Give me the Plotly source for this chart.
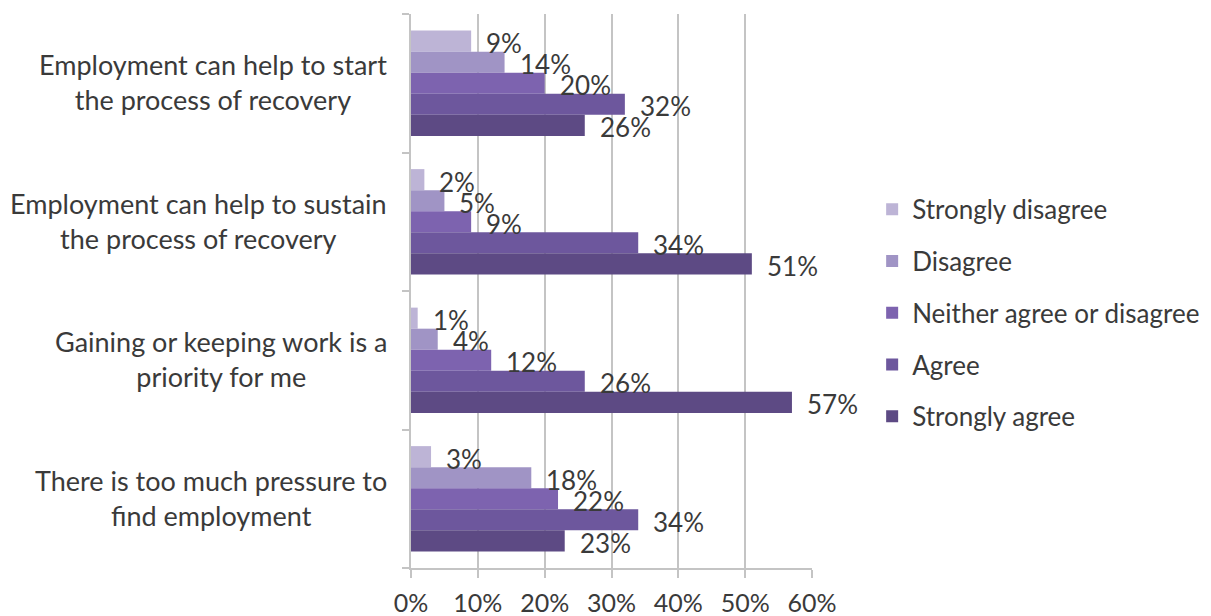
import plotly.graph_objects as go

# ── Data ────────────────────────────────────────────────────────────────
STATEMENTS = [
    "Employment can help to start<br>the process of recovery",
    "Employment can help to sustain<br>the process of recovery",
    "Gaining or keeping work is a<br>priority for me",
    "There is too much pressure to<br>find employment",
]
RESPONSES = ["Strongly disagree", "Disagree", "Neither agree or disagree",
             "Agree", "Strongly agree"]
STRONGLY_DISAGREE = [0.09, 0.02, 0.01, 0.03]
DISAGREE          = [0.14, 0.05, 0.04, 0.18]
NEITHER           = [0.20, 0.09, 0.12, 0.22]
AGREE             = [0.32, 0.34, 0.26, 0.34]
STRONGLY_AGREE    = [0.26, 0.51, 0.57, 0.23]
X_TICKS = [0, 0.1, 0.2, 0.3, 0.4, 0.5, 0.6]

# ── Style ───────────────────────────────────────────────────────────────
FONT = "Lato, 'Open Sans', Arial, sans-serif"
INK = "#3a3a3a"
GRID = "#c4c4c4"
COLORS = ["#bdb4d6", "#a094c5", "#7d63af", "#6d579d", "#5d4a84"]
BAR_W = 0.152
FS = 26

series = [STRONGLY_DISAGREE, DISAGREE, NEITHER, AGREE, STRONGLY_AGREE]
cat_pos = list(range(len(STATEMENTS)))

fig = go.Figure()
for i, (name, vals, col) in enumerate(zip(RESPONSES, series, COLORS)):
    off = (i - 2) * BAR_W
    ys = [p + off for p in cat_pos]
    fig.add_trace(go.Bar(
        name=name, x=vals, y=ys, orientation="h", width=BAR_W,
        marker=dict(color=col, line=dict(width=0)),
        legendgroup=name, hoverinfo="skip",
    ))
    for v, y in zip(vals, ys):
        fig.add_annotation(
            x=v, y=y, xref="x", yref="y", text=f"{round(v * 100)}%",
            showarrow=False, xanchor="left", yanchor="middle",
            xshift=13, yshift=-2,
            font=dict(family=FONT, size=FS, color=INK))

# invisible trace on an overlay axis that only carries the tick labels,
# pushed further below the axis line like the original
fig.add_trace(go.Scatter(x=[0, 0.6], y=[0, 0], xaxis="x2", mode="markers",
                         marker=dict(opacity=0), showlegend=False,
                         hoverinfo="skip"))

# category labels: two centred lines, block right-aligned to the axis
for p, lab in zip(cat_pos, STATEMENTS):
    fig.add_annotation(
        xref="paper", yref="y", x=0, y=p, xshift=-22, yshift=1,
        text=lab, showarrow=False, align="center",
        xanchor="right", yanchor="middle",
        font=dict(family=FONT, size=27, color=INK))

# page body adds an 8px margin, so the figure is laid out 8px smaller
fig.update_layout(
    width=1203, height=608,
    paper_bgcolor="white", plot_bgcolor="white",
    margin=dict(l=403, r=399, t=6, b=48),
    font=dict(family=FONT, size=FS, color=INK),
    barmode="overlay",
    showlegend=True,
    legend=dict(x=1.15, y=0.69, xanchor="left", yanchor="top",
                traceorder="grouped", tracegroupgap=15,
                font=dict(family=FONT, size=26, color=INK),
                itemwidth=30),
    xaxis=dict(range=[0, 0.6], tickvals=X_TICKS, showticklabels=False,
               showgrid=True, gridcolor=GRID, gridwidth=1.5,
               zeroline=False, showline=True, linecolor=GRID, linewidth=1.5,
               ticks="outside", ticklen=8, tickcolor=GRID, tickwidth=1.5,
               automargin=False, fixedrange=True),
    xaxis2=dict(range=[0, 0.6], tickvals=X_TICKS, tickformat=".0%",
                overlaying="x", side="bottom", anchor="y",
                showgrid=False, zeroline=False, showline=False,
                ticks="outside", ticklen=13, tickcolor="rgba(0,0,0,0)",
                tickfont=dict(size=25, color=INK),
                automargin=False, fixedrange=True),
    yaxis=dict(range=[3.5, -0.5], tickvals=[-0.5, 0.5, 1.5, 2.5, 3.5],
               showticklabels=False, showgrid=False, zeroline=False,
               showline=True, linecolor=GRID, linewidth=1.5,
               ticks="outside", ticklen=7, tickcolor=GRID, tickwidth=1.5,
               automargin=False, fixedrange=True),
)

fig.write_html("out.html", config=dict(displayModeBar=False))
